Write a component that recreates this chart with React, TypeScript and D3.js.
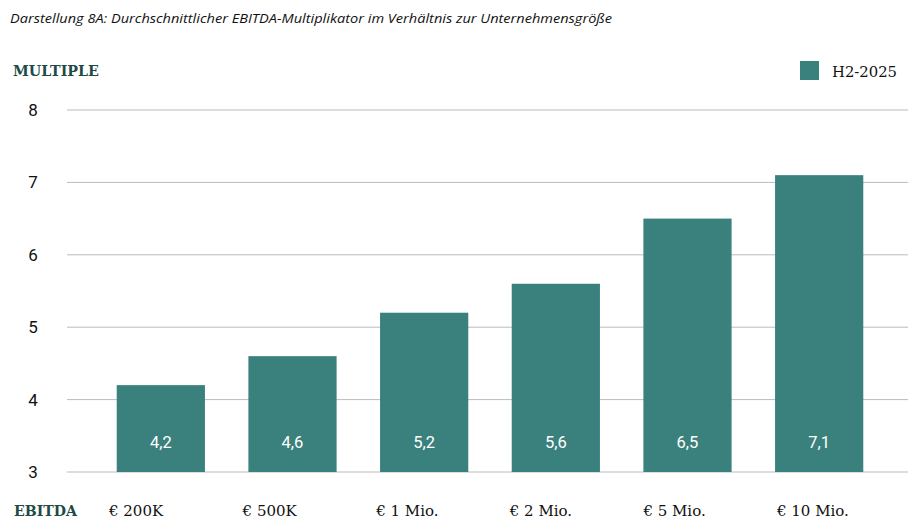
import React from "react";
import * as d3 from "d3";

const categories = ["€ 200K", "€ 500K", "€ 1 Mio.", "€ 2 Mio.", "€ 5 Mio.", "€ 10 Mio."];
const values = [4.2, 4.6, 5.2, 5.6, 6.5, 7.1];
const valueLabels = ["4,2", "4,6", "5,2", "5,6", "6,5", "7,1"];
const yTicks = [3, 4, 5, 6, 7, 8];
const seriesName = "H2-2025";
const title = "Darstellung 8A: Durchschnittlicher EBITDA-Multiplikator im Verhältnis zur Unternehmensgröße";

const W = 908;
const H = 528;
const BAR = "#3a817d";
const DARK = "#1f4a46";
const SERIF = "'Roboto Slab', 'DejaVu Serif', serif";
const SANS = "Roboto, 'Liberation Sans', sans-serif";

export default function App() {
  const y = d3.scaleLinear().domain([3, 8]).range([472, 110]);
  const x = d3.scaleBand<string>().domain(categories).range([95, 885]).paddingInner(0.33).paddingOuter(0.165);
  const xl = d3.scalePoint<string>().domain(categories).range([109, 777]);

  return (
    <svg width={W} height={H} style={{ position: "absolute", left: 0, top: 0, background: "#fff" }}>
      <text x={10} y={23} fontFamily="'Open Sans', 'Noto Sans', sans-serif" fontStyle="italic" fontSize={13.5} fill="#111" textLength={602} lengthAdjust="spacingAndGlyphs">
        {title}
      </text>
      <text x={13} y={76} fontFamily={SERIF} fontWeight="bold" fontSize={15.5} fill={DARK} textLength={86} lengthAdjust="spacingAndGlyphs">
        MULTIPLE
      </text>
      <rect x={800} y={61} width={19} height={19} fill={BAR} />
      <text x={832} y={77} fontFamily={SERIF} fontSize={15.5} fill="#111" textLength={65} lengthAdjust="spacingAndGlyphs">
        {seriesName}
      </text>
      {yTicks.map((t) => (
        <g key={t}>
          <line x1={67} x2={908} y1={y(t)} y2={y(t)} stroke="#bbb" strokeWidth={1} />
          <text x={33} y={y(t)} dy="0.35em" textAnchor="middle" fontFamily={SANS} fontSize={17} fill="#111">
            {t}
          </text>
        </g>
      ))}
      {categories.map((c, i) => (
        <g key={c}>
          <rect x={x(c)} y={y(values[i])} width={x.bandwidth()} height={y(3) - y(values[i])} fill={BAR} />
          <text x={(x(c) ?? 0) + x.bandwidth() / 2} y={442} dy="0.35em" textAnchor="middle" fontFamily={SANS} fontSize={16.5} fill="#fff">
            {valueLabels[i]}
          </text>
          <text x={xl(c)} y={516} fontFamily={SERIF} fontSize={15} fill="#111">
            {c}
          </text>
        </g>
      ))}
      <text x={14} y={516} fontFamily={SERIF} fontWeight="bold" fontSize={15.5} fill={DARK} textLength={63} lengthAdjust="spacingAndGlyphs">
        EBITDA
      </text>
    </svg>
  );
}
